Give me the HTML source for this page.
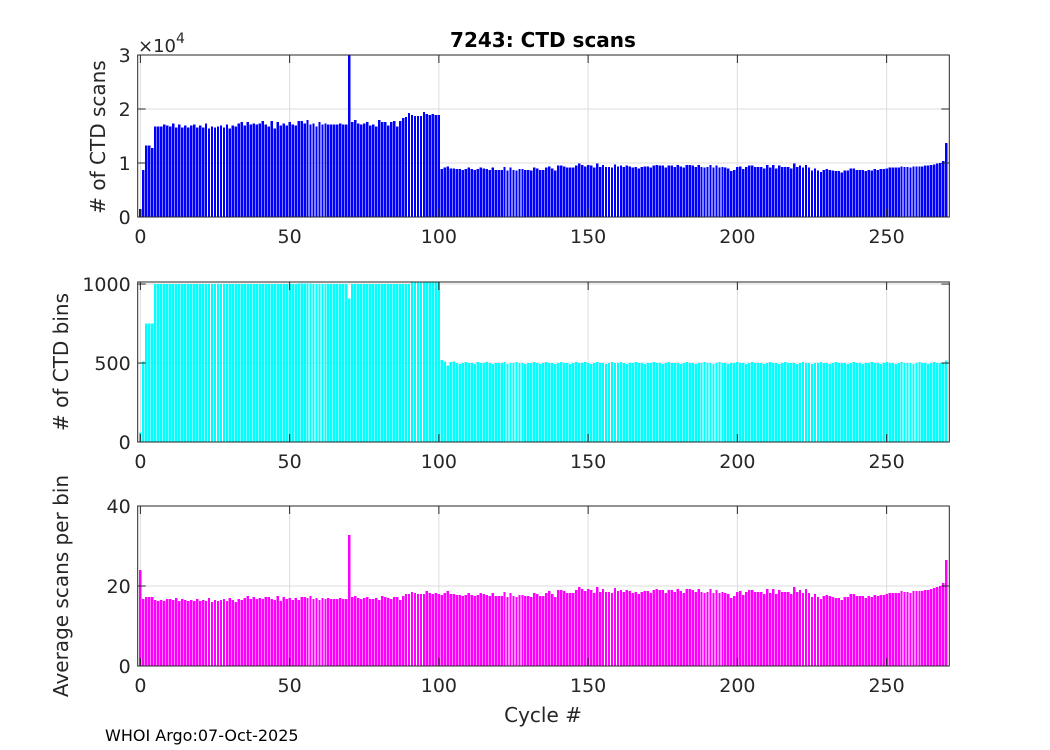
<!DOCTYPE html>
<html><head><meta charset="utf-8"><style>
body{margin:0;background:#fff;}
svg{display:block;font-family:"DejaVu Sans","Liberation Sans",sans-serif;}
</style></head><body>
<svg id="fig" width="1050" height="750" viewBox="0 0 1050 750">
<rect width="1050" height="750" fill="#fff"/>
<text x="543" y="47" font-size="20" font-weight="bold" text-anchor="middle" fill="#000">7243: CTD scans</text>
<text x="543" y="722" font-size="20" text-anchor="middle" fill="#262626">Cycle #</text>
<text x="105" y="741" font-size="16" fill="#000">WHOI Argo:07-Oct-2025</text>
<text x="138" y="52" font-size="18" fill="#262626">×10<tspan dy="-9" font-size="14">4</tspan></text>
<text transform="translate(105,137) rotate(-90)" font-size="20" text-anchor="middle" fill="#262626"># of CTD scans</text>
<text transform="translate(68,362) rotate(-90)" font-size="20" text-anchor="middle" fill="#262626"># of CTD bins</text>
<text transform="translate(68,586) rotate(-90)" font-size="20" text-anchor="middle" fill="#262626">Average scans per bin</text>
</svg>
<script>
const xTicks=[0,50,100,150,200,250];
const scansTicks=[0,1,2,3];
const binsTicks=[0,500,1000];
const avgTicks=[0,20,40];
const scans=[1500,8680,13270,13270,12770,16790,16790,16790,17170,16980,
16790,17360,16610,17170,16610,16980,16610,16980,17170,16610,
16980,16610,17360,16420,16790,16610,16790,16980,16610,17170,
16420,16980,16790,17360,17550,16980,17550,17170,17360,17170,
17360,17740,17170,16790,17740,16420,17550,16980,17360,16980,
17550,17170,16980,17740,17740,17360,17930,17170,17360,16790,
17550,17170,17360,17170,17170,17170,17170,17360,17170,17170,
31000,17550,17930,17360,17170,17360,17550,16980,17170,16790,
17930,17550,17550,16980,17550,17740,16790,17740,18300,18490,
19250,18870,18680,18680,18680,19440,19060,18870,19060,18870,18870,
8875,9125,9375,9000,9000,8875,8875,8750,8875,9125,
8875,8750,8875,9125,9000,8875,8750,9125,8750,8750,
8750,9250,8625,9125,8750,8625,8875,8875,8750,8750,
8625,9125,9000,8750,8750,9125,9375,9000,8625,9500,
9500,9375,9125,9125,9125,9500,9875,9625,9375,9625,
9500,9125,9875,9250,9625,9250,9250,9125,9750,9375,
9500,9250,9500,9375,9125,9250,9000,9250,9375,9375,
9125,9500,9625,9500,9500,9125,9500,9500,9250,9625,
9375,9125,9625,9625,9500,9250,9625,9250,9125,9250,
9625,9125,9500,9125,9250,9125,9000,8500,8750,9250,
9375,8875,9250,9500,9500,9250,9250,9250,9000,9625,
9125,9625,9000,9500,9250,9250,9250,9000,9875,9250,
9500,9125,9625,9125,8625,9000,8625,8375,8750,8875,
8750,8625,8500,8500,8250,8625,8625,9000,9000,8750,
8750,8750,8500,8750,8625,8875,8750,8875,8875,9000,
9125,9125,9125,9125,9375,9250,9250,9125,9375,9375,
9375,9375,9500,9500,9625,9750,9875,10000,10400,13700];
const bins=[60,510,750,750,750,1000,1000,1000,1000,1000,
1000,1000,1000,1000,1000,1000,1000,1000,1000,1000,
1000,1000,1000,1000,1000,1000,1000,1000,1000,1000,
1000,1000,1000,1000,1000,1000,1000,1000,1000,1000,
1000,1000,1000,1000,1000,1000,1000,1000,1000,1000,
1000,1000,1000,1003,1003,1003,1003,1003,1000,1000,
1000,1000,1000,1000,1000,1000,1000,1000,1000,1000,
910,1000,1000,1000,1000,1000,1000,1000,1000,1000,
1000,1000,1000,1000,1000,1000,1000,1000,1000,1000,
1000,1012,1012,1012,1012,1012,1012,1012,1012,1012,1012,
520,510,485,505,510,500,495,500,505,500,
500,495,505,500,500,505,500,495,500,500,
500,505,495,500,500,505,500,500,495,500,
500,505,500,495,500,505,500,500,495,500,
505,500,500,495,500,505,500,500,505,500,
495,500,505,500,500,495,500,505,500,500,
505,500,495,500,500,505,500,500,495,500,
500,505,500,500,495,500,505,500,500,500,
495,500,505,500,500,495,500,500,505,500,
500,495,500,505,500,500,495,500,500,505,
500,500,495,500,505,500,500,500,495,500,
505,500,500,495,500,505,500,500,500,495,
500,505,500,500,495,500,500,505,500,500,
495,500,505,500,500,500,495,500,505,500,
500,495,500,500,505,500,500,495,500,505,
500,500,495,500,505,500,500,500,495,500,
505,500,500,495,500,505,500,500,500,517];
const avgScans=[24,16.75,17.25,17.25,17.25,16.5,16.25,16.5,16.25,16.75,
16.75,16.5,17,16.25,16.75,16.5,16.25,16.5,16.25,16.75,
16.25,16.5,16.25,17,16,16.5,16.25,16.5,16.75,16.25,
17,16.5,16,16.75,16.5,17,17.5,16.75,17.25,16.75,
17,16.75,17.25,17.25,16.75,16.5,17.5,16.25,17.25,16.75,
17,16.5,17,16.5,17.25,17.25,17,17.5,16.75,17,
16.5,17,16.75,17,16.75,16.75,16.75,17,16.75,16.75,
32.75,17.25,17.5,17,16.75,17,17.25,16.75,16.75,17,
16.5,17.5,17.25,17,16.75,17.25,17.25,16.5,17.5,18,
18,18.5,18.25,18,18,18,18.75,18.25,18,18.25,18,
17.75,18.25,18.75,18,18,17.75,17.75,17.5,17.75,18.25,
17.75,17.5,17.75,18.25,18,17.75,17.5,18.25,17.5,17.5,
17.5,18.5,17.25,18.25,17.5,17.25,17.75,17.75,17.5,17.5,
17.25,18.25,18,17.5,17.5,18.25,18.75,18,17.25,19,
19,18.75,18.25,18.25,18.25,19,19.75,19.25,18.75,19.25,
19,18.25,19.75,18.5,19.25,18.5,18.5,18.25,19.5,18.75,
19,18.5,19,18.75,18.25,18.5,18,18.5,18.75,18.75,
18.25,19,19.25,19,19,18.25,19,19,18.5,19.25,
18.75,18.25,19.25,19.25,19,18.5,19.25,18.5,18.25,18.5,
19.25,18.25,19,18.25,18.5,18.25,18,17,17.5,18.5,
18.75,17.75,18.5,19,19,18.5,18.5,18.5,18,19.25,
18.25,19.25,18,19,18.5,18.5,18.5,18,19.75,18.5,
19,18.25,19.25,18.25,17.25,18,17.25,16.75,17.5,17.75,
17.5,17.25,17,17,16.5,17.25,17.25,18,18,17.5,
17.5,17.5,17,17.5,17.25,17.75,17.5,17.75,17.75,18,
18.25,18.25,18.25,18.25,18.75,18.5,18.5,18.25,18.75,18.75,
18.75,18.75,19,19,19.25,19.5,19.75,20,20.75,26.5];

const NS='http://www.w3.org/2000/svg';
const svg=document.getElementById('fig');
const X0=137.7,X1=949.3,XMIN=-0.9,XMAX=271;
const xs=v=>X0+(v-XMIN)/(XMAX-XMIN)*(X1-X0);
function mk(tag,attrs,parent){const e=document.createElementNS(NS,tag);for(const k in attrs)e.setAttribute(k,attrs[k]);(parent||svg).appendChild(e);return e;}

function panel(name,top,bot,ymax,vals,scale,yticks,color){
  const g=mk('g',{});
  
  
  const ys=v=>bot-(v/ymax)*(bot-top);
  xTicks.forEach(t=>{const l=mk('line',{x1:xs(t),x2:xs(t),y1:top,y2:bot,stroke:'#dcdcdc','stroke-width':1},g);
    
    });
  yticks.forEach(t=>{const y=ys(t*scale);const l=mk('line',{x1:X0,x2:X1,y1:y,y2:y,stroke:'#dcdcdc','stroke-width':1},g);
    
    });
  const bw=0.8*(X1-X0)/(XMAX-XMIN);
  vals.forEach((v,i)=>{const vv=Math.min(v,ymax);const y=ys(vv);
    const r=mk('rect',{x:xs(i)-bw/2,y:y,width:bw,height:bot-y,fill:color,'shape-rendering':'crispEdges'},g);
    
    });
  const b=mk('rect',{x:X0,y:top,width:X1-X0,height:bot-top,fill:'none',stroke:'#262626','stroke-width':1},g);
  
  
  xTicks.forEach(t=>{const x=xs(t);
    mk('line',{x1:x,x2:x,y1:bot,y2:bot-8,stroke:'#262626'},g);
    mk('line',{x1:x,x2:x,y1:top,y2:top+8,stroke:'#262626'},g);
    const tx=mk('text',{x:x,y:bot+26,'font-size':19,'text-anchor':'middle',fill:'#262626'},g);
    tx.textContent=t;
    
    });
  yticks.forEach(t=>{const y=ys(t*scale);
    mk('line',{x1:X0,x2:X0+8,y1:y,y2:y,stroke:'#262626'},g);
    mk('line',{x1:X1,x2:X1-8,y1:y,y2:y,stroke:'#262626'},g);
    const tx=mk('text',{x:X0-7,y:y+7,'font-size':19,'text-anchor':'end',fill:'#262626'},g);
    tx.textContent=t;
    
    });
}
panel('scans',55,217,30000,scans,10000,scansTicks,'#0000ff');
panel('bins',282,442,1013,bins,1,binsTicks,'#00ffff');
panel('average',506,666,40,avgScans,1,avgTicks,'#ff00ff');
</script>
</body></html>
